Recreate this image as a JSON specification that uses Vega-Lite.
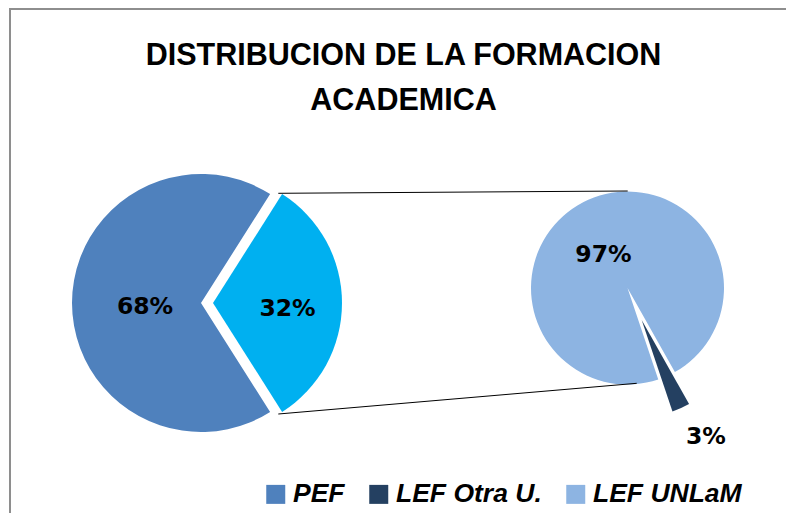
{
  "$schema": "https://vega.github.io/schema/vega-lite/v6.json",
  "autosize": "none",
  "width": 790,
  "height": 519,
  "padding": {"left": 10, "top": 9, "right": -14, "bottom": -15},
  "background": "white",
  "title": {
    "text": ["DISTRIBUCION DE LA FORMACION", "ACADEMICA"],
    "orient": "top",
    "anchor": "middle",
    "frame": "group",
    "offset": -107,
    "dx": -1.5,
    "font": "Liberation Sans",
    "fontSize": 30.5,
    "fontWeight": "bold",
    "color": "#000000",
    "lineHeight": 45
  },
  "data": {
    "values": [
      {"pie": "Principal", "categoria": "PEF", "valor": 0.68},
      {"pie": "Principal", "categoria": "LEF", "valor": 0.32},
      {"pie": "Secundario", "categoria": "LEF Otra U.", "valor": 0.03},
      {"pie": "Secundario", "categoria": "LEF UNLaM", "valor": 0.97}
    ]
  },
  "encoding": {
    "x": {"field": "pie", "type": "nominal", "axis": null, "scale": {"type": "point", "domain": ["Principal", "Secundario"], "range": [191, 617.5], "padding": 0}},
    "y": {"field": "pie", "type": "nominal", "axis": null, "scale": {"type": "point", "domain": ["Principal", "Secundario"], "range": [294, 279], "padding": 0}}
  },
  "layer": [
    {
      "transform": [{"filter": "datum.pie === 'Principal'"}],
      "mark": {"type": "arc", "radius": 129},
      "encoding": {
        "theta": {"field": "valor", "type": "quantitative", "stack": true, "scale": {"domain": [0, 1], "range": [0.5655, 6.8487]}},
        "order": {"field": "valor", "type": "quantitative", "sort": "ascending"},
        "color": {"field": "categoria", "type": "nominal", "scale": {"domain": ["PEF", "LEF Otra U.", "LEF UNLaM", "LEF"], "range": ["#4F81BD", "#244061", "#8DB4E2", "#00B0F0"]}, "legend": {"values": ["PEF", "LEF Otra U.", "LEF UNLaM"]}},
        "opacity": {"condition": {"test": "datum.categoria === 'LEF'", "value": 0}, "value": 1}
      }
    },
    {
      "transform": [{"filter": "datum.pie === 'Principal'"}],
      "mark": {"type": "arc", "radius": 129, "xOffset": 12},
      "encoding": {
        "theta": {"field": "valor", "type": "quantitative", "stack": true, "scale": {"domain": [0, 1], "range": [0.5655, 6.8487]}},
        "order": {"field": "valor", "type": "quantitative", "sort": "ascending"},
        "color": {"field": "categoria", "type": "nominal", "scale": {"domain": ["PEF", "LEF Otra U.", "LEF UNLaM", "LEF"], "range": ["#4F81BD", "#244061", "#8DB4E2", "#00B0F0"]}, "legend": {"values": ["PEF", "LEF Otra U.", "LEF UNLaM"]}},
        "opacity": {"condition": {"test": "datum.categoria === 'LEF'", "value": 1}, "value": 0}
      }
    },
    {
      "transform": [{"filter": "datum.pie === 'Secundario'"}],
      "mark": {"type": "arc", "radius": 96.5},
      "encoding": {
        "theta": {"field": "valor", "type": "quantitative", "stack": true, "scale": {"domain": [0, 1], "range": [2.6285, 8.9117]}},
        "order": {"field": "valor", "type": "quantitative", "sort": "ascending"},
        "color": {"field": "categoria", "type": "nominal", "scale": {"domain": ["PEF", "LEF Otra U.", "LEF UNLaM", "LEF"], "range": ["#4F81BD", "#244061", "#8DB4E2", "#00B0F0"]}, "legend": {"values": ["PEF", "LEF Otra U.", "LEF UNLaM"]}},
        "opacity": {"condition": {"test": "datum.categoria === 'LEF Otra U.'", "value": 0}, "value": 1}
      }
    },
    {
      "transform": [{"filter": "datum.pie === 'Secundario'"}],
      "mark": {"type": "arc", "radius": 96.5, "xOffset": 14.2, "yOffset": 32},
      "encoding": {
        "theta": {"field": "valor", "type": "quantitative", "stack": true, "scale": {"domain": [0, 1], "range": [2.6285, 8.9117]}},
        "order": {"field": "valor", "type": "quantitative", "sort": "ascending"},
        "color": {"field": "categoria", "type": "nominal", "scale": {"domain": ["PEF", "LEF Otra U.", "LEF UNLaM", "LEF"], "range": ["#4F81BD", "#244061", "#8DB4E2", "#00B0F0"]}, "legend": {"values": ["PEF", "LEF Otra U.", "LEF UNLaM"]}},
        "opacity": {"condition": {"test": "datum.categoria === 'LEF Otra U.'", "value": 1}, "value": 0}
      }
    },
    {
      "transform": [{"filter": "datum.pie === 'Principal'"}],
      "mark": {"type": "text", "radius": 56, "font": "DejaVu Sans", "fontSize": 23.5, "fontWeight": "bold", "fill": "#000000", "dy": 4},
      "encoding": {
        "theta": {"field": "valor", "type": "quantitative", "stack": true, "scale": {"domain": [0, 1], "range": [0.5655, 6.8487]}},
        "order": {"field": "valor", "type": "quantitative", "sort": "ascending"},
        "text": {"field": "valor", "type": "quantitative", "format": ".0%"},
        "opacity": {"condition": {"test": "datum.categoria === 'PEF'", "value": 1}, "value": 0}
      }
    },
    {
      "transform": [{"filter": "datum.pie === 'Principal'"}],
      "mark": {"type": "text", "radius": 74.5, "font": "DejaVu Sans", "fontSize": 23.5, "fontWeight": "bold", "fill": "#000000", "dx": 12, "dy": 6},
      "encoding": {
        "theta": {"field": "valor", "type": "quantitative", "stack": true, "scale": {"domain": [0, 1], "range": [0.5655, 6.8487]}},
        "order": {"field": "valor", "type": "quantitative", "sort": "ascending"},
        "text": {"field": "valor", "type": "quantitative", "format": ".0%"},
        "opacity": {"condition": {"test": "datum.categoria === 'LEF'", "value": 1}, "value": 0}
      }
    },
    {
      "transform": [{"filter": "datum.pie === 'Secundario'"}],
      "mark": {"type": "text", "radius": 37, "font": "DejaVu Sans", "fontSize": 23.5, "fontWeight": "bold", "fill": "#000000", "dx": -9, "dy": 1},
      "encoding": {
        "theta": {"field": "valor", "type": "quantitative", "stack": true, "scale": {"domain": [0, 1], "range": [2.6285, 8.9117]}},
        "order": {"field": "valor", "type": "quantitative", "sort": "ascending"},
        "text": {"field": "valor", "type": "quantitative", "format": ".0%"},
        "opacity": {"condition": {"test": "datum.categoria === 'LEF UNLaM'", "value": 1}, "value": 0}
      }
    },
    {
      "transform": [{"filter": "datum.pie === 'Secundario'"}],
      "mark": {"type": "text", "radius": 127, "font": "DejaVu Sans", "fontSize": 23.5, "fontWeight": "bold", "fill": "#000000", "dx": 26.8, "dy": 33},
      "encoding": {
        "theta": {"field": "valor", "type": "quantitative", "stack": true, "scale": {"domain": [0, 1], "range": [2.6285, 8.9117]}},
        "order": {"field": "valor", "type": "quantitative", "sort": "ascending"},
        "text": {"field": "valor", "type": "quantitative", "format": ".0%"},
        "opacity": {"condition": {"test": "datum.categoria === 'LEF Otra U.'", "value": 1}, "value": 0}
      }
    },
    {
      "transform": [{"filter": "datum.categoria === 'PEF'"}],
      "mark": {"type": "rule", "stroke": "#000000", "strokeWidth": 1, "xOffset": 77.3, "yOffset": -109.7, "x2Offset": 0.2, "y2Offset": -97},
      "encoding": {
        "x": {"datum": "Principal", "type": "nominal", "axis": null},
        "y": {"datum": "Principal", "type": "nominal", "axis": null},
        "x2": {"datum": "Secundario"},
        "y2": {"datum": "Secundario"}
      }
    },
    {
      "transform": [{"filter": "datum.categoria === 'PEF'"}],
      "mark": {"type": "rule", "stroke": "#000000", "strokeWidth": 1, "xOffset": 77.3, "yOffset": 111, "x2Offset": 9.2, "y2Offset": 95.3},
      "encoding": {
        "x": {"datum": "Principal", "type": "nominal", "axis": null},
        "y": {"datum": "Principal", "type": "nominal", "axis": null},
        "x2": {"datum": "Secundario"},
        "y2": {"datum": "Secundario"}
      }
    }
  ],
  "resolve": {"scale": {"theta": "independent"}},
  "config": {
    "view": {"stroke": "#8E8E8E", "strokeWidth": 2},
    "font": "Liberation Sans",
    "legend": {
      "orient": "none",
      "legendX": 252.5,
      "legendY": 472,
      "direction": "horizontal",
      "title": null,
      "padding": 0,
      "symbolType": "square",
      "symbolSize": 361,
      "symbolStrokeWidth": 0,
      "labelFont": "Liberation Sans",
      "labelFontSize": 26.5,
      "labelFontWeight": "bold",
      "labelFontStyle": "italic",
      "labelColor": "#000000",
      "labelOffset": 4,
      "columnPadding": 20,
      "labelLimit": 400
    }
  }
}
